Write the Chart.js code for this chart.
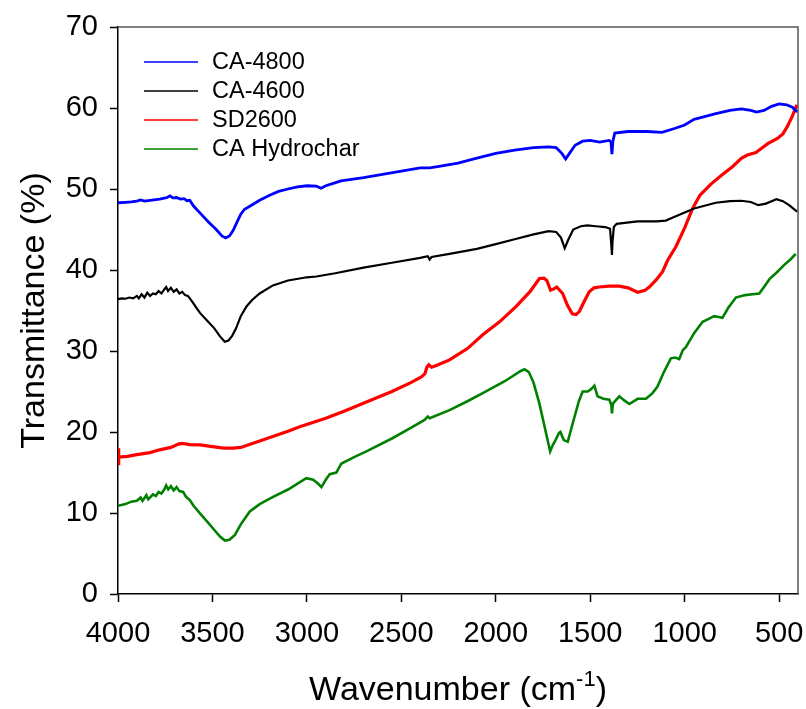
<!DOCTYPE html>
<html>
<head>
<meta charset="utf-8">
<script src="https://cdn.jsdelivr.net/npm/chart.js@4.4.1/dist/chart.umd.min.js"></script>
<style>
  html, body { margin: 0; padding: 0; background: #fff; }
  #wrap { width: 806px; height: 709px; }
</style>
</head>
<body>
<div id="wrap"><canvas id="ftir" width="806" height="709"></canvas></div>
<script>
// FTIR spectra: wavenumber (cm-1) and transmittance (%) for each sample
const seriesNames = ['CA-4800', 'CA-4600', 'SD2600', 'CA Hydrochar'];
const seriesColors = ['#0000ff', '#000000', '#ff0000', '#008000'];
const xTickValues = [4000, 3500, 3000, 2500, 2000, 1500, 1000, 500];
const yTickValues = [0, 10, 20, 30, 40, 50, 60, 70];

const ca4800Wn = [4000, 3960, 3930, 3900, 3880, 3860, 3830, 3800, 3780, 3760, 3740, 3725, 3710, 3690, 3670, 3650, 3635, 3620,
  3600, 3560, 3520, 3480, 3450, 3430, 3410, 3390, 3370, 3350, 3330, 3300, 3250, 3200, 3150, 3100, 3050, 3000, 2950, 2925,
  2900, 2860, 2820, 2700, 2600, 2500, 2400, 2350, 2300, 2200, 2100, 2000, 1900, 1800, 1720, 1680, 1650, 1630, 1610, 1580,
  1540, 1500, 1450, 1400, 1390, 1385, 1380, 1370, 1300, 1200, 1120, 1050, 1000, 950, 900, 835, 760, 700, 650, 620, 580,
  540, 500, 460, 430, 405];
const ca4800T = [48.3, 48.35, 48.4, 48.5, 48.65, 48.5, 48.6, 48.7, 48.75, 48.85, 48.95, 49.15, 48.9, 48.95, 48.75, 48.8, 48.55, 48.6,
  47.9, 46.9, 45.9, 45.0, 44.2, 43.95, 44.2, 44.9, 45.9, 46.9, 47.5, 47.9, 48.6, 49.2, 49.7, 50.0, 50.25, 50.4, 50.35, 50.1,
  50.4, 50.7, 51.0, 51.4, 51.8, 52.2, 52.6, 52.6, 52.8, 53.2, 53.8, 54.4, 54.8, 55.1, 55.2, 55.1, 54.4, 53.7, 54.4, 55.4,
  55.9, 56.0, 55.8, 56.0, 55.8, 54.3, 55.9, 56.9, 57.1, 57.1, 57.0, 57.5, 57.9, 58.6, 58.9, 59.3, 59.7, 59.9, 59.7, 59.5, 59.7,
  60.2, 60.5, 60.4, 60.1, 59.5];

const ca4600Wn = [4000, 3980, 3960, 3940, 3920, 3900, 3890, 3875, 3860, 3845, 3830, 3815, 3800, 3785, 3770, 3755, 3745, 3735,
  3720, 3705, 3690, 3675, 3660, 3645, 3630, 3610, 3590, 3566, 3530, 3490, 3460, 3435, 3415, 3395, 3375, 3350, 3320, 3290,
  3250, 3180, 3100, 3000, 2950, 2850, 2700, 2550, 2400, 2360, 2350, 2340, 2245, 2100, 2000, 1900, 1800, 1720, 1680, 1655,
  1635, 1615, 1590, 1550, 1515, 1470, 1420, 1395, 1388, 1385, 1382, 1375, 1360, 1250, 1150, 1100, 1050, 1000, 950, 900,
  835, 760, 700, 650, 610, 570, 540, 515, 480, 447, 405];
const ca4600T = [36.4, 36.5, 36.45, 36.6, 36.5, 36.8, 36.5, 37.0, 36.6, 37.2, 36.8, 37.1, 37.0, 37.4, 37.1, 37.6, 37.9, 37.4,
  37.8, 37.3, 37.6, 37.1, 37.3, 36.9, 36.8, 36.2, 35.5, 34.7, 33.8, 32.8, 31.8, 31.15, 31.3, 31.9, 32.8, 34.3, 35.5, 36.3,
  37.1, 38.1, 38.7, 39.1, 39.2, 39.6, 40.3, 40.9, 41.5, 41.7, 41.3, 41.6, 42.0, 42.6, 43.2, 43.8, 44.4, 44.8, 44.7, 44.0,
  42.7, 43.8, 45.0, 45.4, 45.5, 45.4, 45.3, 45.1, 43.0, 41.85, 43.5, 45.3, 45.7, 46.0, 46.0, 46.1, 46.6, 47.1, 47.6, 47.9,
  48.3, 48.5, 48.55, 48.4, 48.0, 48.2, 48.5, 48.75, 48.5, 48.0, 47.2];

const sd2600Wn = [4000, 3998, 3995, 3950, 3900, 3831, 3780, 3720, 3680, 3660, 3620, 3566, 3500, 3440, 3390, 3350, 3300, 3200,
  3100, 3038, 2900, 2800, 2685, 2550, 2450, 2394, 2375, 2365, 2355, 2340, 2315, 2245, 2150, 2069, 1980, 1892, 1820, 1769,
  1745, 1730, 1710, 1690, 1677, 1646, 1620, 1595, 1575, 1557, 1530, 1505, 1480, 1452, 1400, 1346, 1300, 1249, 1210, 1187,
  1150, 1117, 1090, 1046, 1000, 958, 920, 861, 800, 747, 700, 668, 623, 600, 560, 509, 480, 457, 430, 406];
const sd2600T = [18.0, 15.9, 16.9, 17.0, 17.2, 17.45, 17.8, 18.1, 18.5, 18.6, 18.45, 18.4, 18.2, 18.0, 18.0, 18.1, 18.5, 19.3,
  20.1, 20.65, 21.7, 22.6, 23.7, 25.0, 26.1, 26.8, 27.2, 28.0, 28.3, 28.0, 28.2, 28.9, 30.3, 32.0, 33.6, 35.5, 37.3, 38.95,
  39.0, 38.7, 37.5, 37.7, 37.9, 37.1, 35.6, 34.6, 34.5, 34.9, 36.2, 37.3, 37.8, 37.9, 38.0, 38.0, 37.8, 37.25, 37.5, 37.9,
  38.8, 39.8, 41.2, 42.9, 45.2, 47.6, 49.2, 50.6, 51.8, 52.75, 53.8, 54.2, 54.5, 54.9, 55.6, 56.25, 56.8, 57.7, 59.0, 60.4];

const hydrocharWn = [4000, 3960, 3930, 3900, 3880, 3870, 3850, 3840, 3831, 3815, 3800, 3785, 3770, 3755, 3745, 3734, 3720,
  3705, 3690, 3675, 3655, 3640, 3620, 3600, 3566, 3530, 3490, 3460, 3434, 3410, 3381, 3350, 3320, 3302, 3250, 3179, 3100,
  3003, 2967, 2940, 2923, 2900, 2879, 2844, 2830, 2817, 2750, 2685, 2550, 2450, 2377, 2360, 2350, 2245, 2150, 2069, 1950,
  1870, 1848, 1825, 1800, 1769, 1740, 1712, 1700, 1684, 1665, 1658, 1640, 1619, 1590, 1560, 1540, 1513, 1495, 1478, 1461,
  1430, 1399, 1388, 1385, 1380, 1346, 1320, 1293, 1249, 1205, 1170, 1144, 1110, 1073, 1050, 1029, 1010, 993, 950, 905, 870,
  844, 820, 800, 770, 729, 680, 640, 605, 580, 550, 517, 470, 440, 412];
const hydrocharT = [10.9, 11.1, 11.4, 11.5, 11.9, 11.5, 12.2, 11.7, 11.9, 12.3, 12.1, 12.6, 12.4, 12.9, 13.4, 12.9, 13.3,
  12.8, 13.2, 12.7, 12.6, 12.0, 11.6, 10.9, 9.95, 9.0, 7.9, 7.1, 6.6, 6.7, 7.3, 8.6, 9.6, 10.2, 11.1, 12.0, 12.9,
  14.3, 14.1, 13.6, 13.2, 14.1, 14.8, 15.0, 15.6, 16.1, 16.9, 17.6, 19.2, 20.5, 21.5, 21.9, 21.7, 22.7, 23.8, 24.8, 26.3,
  27.5, 27.75, 27.4, 26.1, 23.5, 20.5, 17.6, 18.3, 19.0, 19.9, 20.0, 19.0, 18.8, 21.3, 23.8, 25.0, 25.0, 25.3, 25.7, 24.4,
  24.1, 24.0, 23.3, 22.3, 23.5, 24.4, 23.9, 23.45, 24.1, 24.1, 24.8, 25.6, 27.4, 29.1, 29.2, 29.0, 30.1, 30.5, 32.2, 33.6, 34.0,
  34.3, 34.2, 34.1, 35.3, 36.6, 36.9, 37.0, 37.1, 37.9, 38.9, 39.6, 40.7, 41.3, 42.0];

const seriesWn = [ca4800Wn, ca4600Wn, sd2600Wn, hydrocharWn];
const seriesT = [ca4800T, ca4600T, sd2600T, hydrocharT];
const seriesWidths = [2.8, 2.2, 3.2, 2.6];

const FONT = "'Liberation Sans', Arial, Helvetica, sans-serif";

const datasets = seriesNames.map((name, i) => ({
  label: name,
  data: seriesWn[i].map((wn, j) => ({ x: wn, y: seriesT[i][j] })),
  borderColor: seriesColors[i],
  backgroundColor: seriesColors[i],
  borderWidth: seriesWidths[i],
  pointRadius: 0,
  tension: 0,
  fill: false
}));

// Inset legend, frame (top/right), and axis titles
const decorations = {
  id: 'decorations',
  afterDraw(chart) {
    const ctx = chart.ctx;
    const a = chart.chartArea;
    ctx.save();
    // top and right frame lines
    ctx.strokeStyle = '#555555';
    ctx.lineWidth = 1.5;
    ctx.beginPath();
    ctx.moveTo(a.left, a.top);
    ctx.lineTo(a.right, a.top);
    ctx.lineTo(a.right, a.bottom);
    ctx.stroke();

    // legend
    ctx.font = '23.5px ' + FONT;
    ctx.textBaseline = 'middle';
    ctx.textAlign = 'left';
    chart.data.datasets.forEach((ds, i) => {
      const y = 62 + i * 29;
      ctx.strokeStyle = ds.borderColor;
      ctx.lineWidth = 1.6;
      ctx.beginPath();
      ctx.moveTo(144, y);
      ctx.lineTo(198, y);
      ctx.stroke();
      ctx.fillStyle = '#000';
      ctx.fillText(ds.label, 212, y + 1);
    });

    // y axis title
    ctx.save();
    ctx.translate(35, (a.top + a.bottom) / 2);
    ctx.rotate(-Math.PI / 2);
    ctx.font = '34px ' + FONT;
    ctx.textAlign = 'center';
    ctx.textBaseline = 'middle';
    ctx.fillStyle = '#000';
    ctx.fillText('Transmittance (%)', 0, 0);
    ctx.restore();

    // x axis title with superscript
    const main1 = 'Wavenumber (cm';
    const sup = '-1';
    const main2 = ')';
    ctx.font = '34px ' + FONT;
    const w1 = ctx.measureText(main1).width;
    const w3 = ctx.measureText(main2).width;
    ctx.font = '22px ' + FONT;
    const w2 = ctx.measureText(sup).width;
    const total = w1 + w2 + w3;
    let x = (a.left + a.right) / 2 - total / 2;
    const base = 700;
    ctx.textBaseline = 'alphabetic';
    ctx.fillStyle = '#000';
    ctx.font = '34px ' + FONT;
    ctx.fillText(main1, x, base);
    x += w1;
    ctx.font = '22px ' + FONT;
    ctx.fillText(sup, x, base - 14);
    x += w2;
    ctx.font = '34px ' + FONT;
    ctx.fillText(main2, x, base);
    ctx.restore();
  }
};

new Chart(document.getElementById('ftir'), {
  type: 'line',
  data: { datasets },
  options: {
    responsive: false,
    animation: false,
    parsing: true,
    layout: { padding: { top: 27, right: 8, left: 0, bottom: 0 } },
    plugins: {
      legend: { display: false },
      tooltip: { enabled: false }
    },
    scales: {
      x: {
        type: 'linear',
        reverse: true,
        min: 400,
        max: 4000,
        afterBuildTicks(scale) {
          scale.ticks = xTickValues.map(v => ({ value: v }));
        },
        afterFit(scale) {
          scale.height = 115;
          scale.paddingLeft = 0;
          scale.paddingRight = 0;
        },
        border: { display: true, color: '#000', width: 1.5 },
        grid: { display: true, drawOnChartArea: false, drawTicks: true, tickLength: 8, color: '#000', tickColor: '#000', tickWidth: 1.5 },
        ticks: {
          autoSkip: false,
          maxRotation: 0,
          padding: 15,
          color: '#000',
          font: { family: FONT, size: 29 },
          callback: v => String(v)
        }
      },
      y: {
        min: 0,
        max: 70,
        afterBuildTicks(scale) {
          scale.ticks = yTickValues.map(v => ({ value: v }));
        },
        afterFit(scale) {
          scale.width = 118;
          scale.paddingTop = 0;
          scale.paddingBottom = 0;
        },
        border: { display: true, color: '#000', width: 1.5 },
        grid: { display: true, drawOnChartArea: false, drawTicks: true, tickLength: 8, color: '#000', tickColor: '#000', tickWidth: 1.5 },
        ticks: {
          padding: 12,
          color: '#000',
          font: { family: FONT, size: 29 },
          callback: v => String(v)
        }
      }
    }
  },
  plugins: [decorations]
});
</script>
</body>
</html>
